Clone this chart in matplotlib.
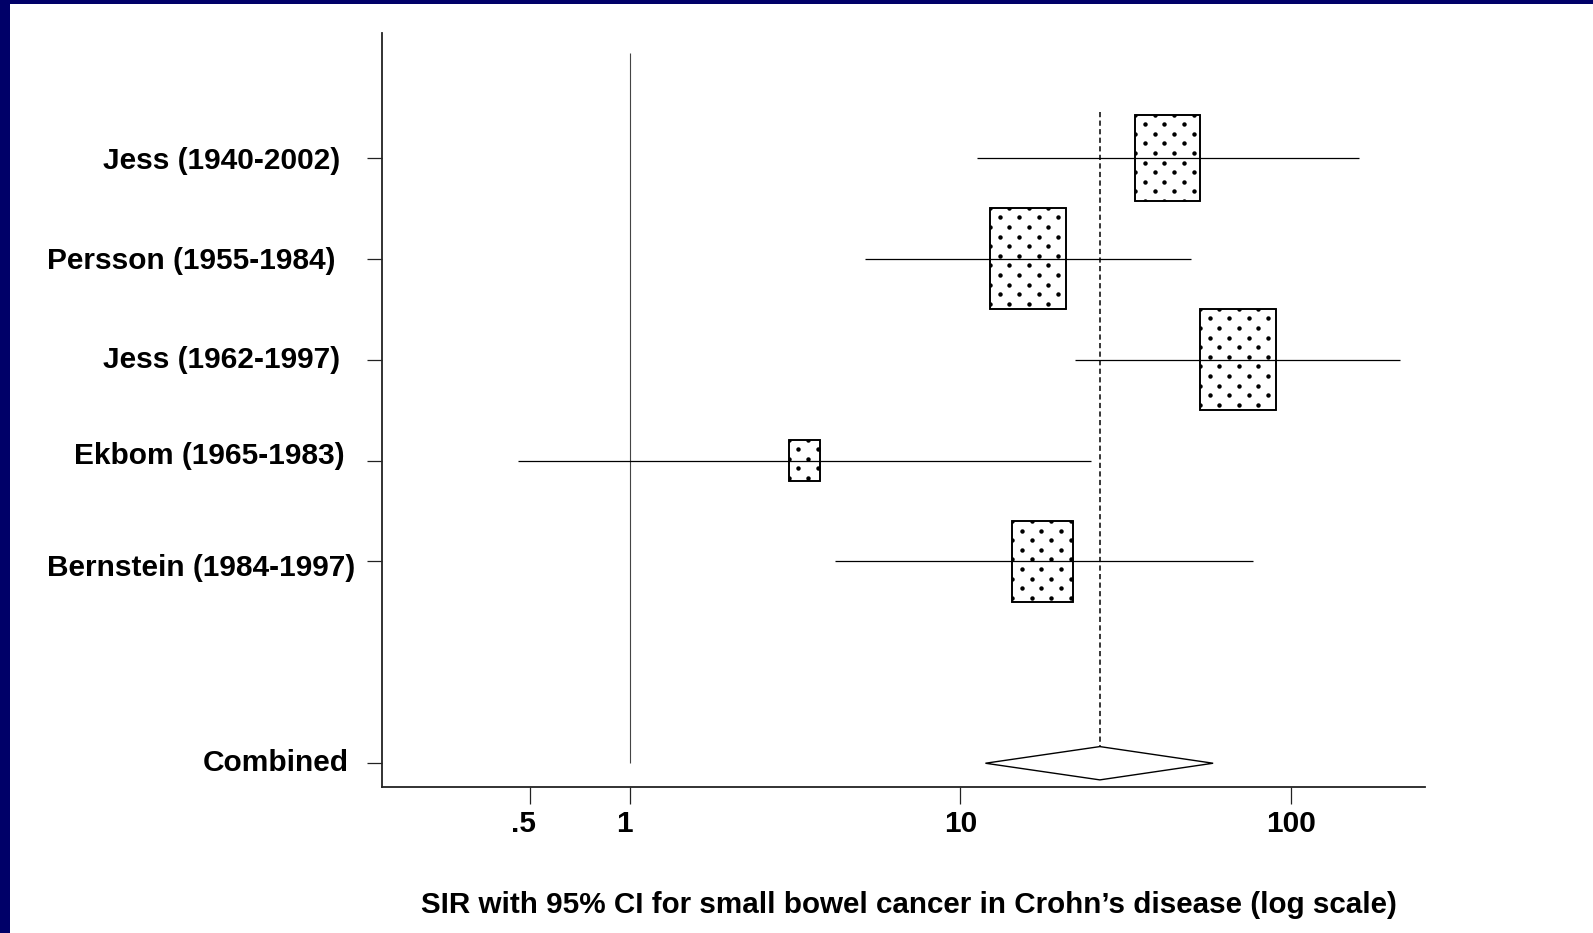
import numpy as np
import matplotlib
matplotlib.use("Agg")
import matplotlib.pyplot as plt
from matplotlib.patches import Rectangle, Polygon
import matplotlib.transforms as mtransforms

# ---------------- data ----------------
studies = ["Jess (1940-2002)", "Persson (1955-1984)", "Jess (1962-1997)",
           "Ekbom (1965-1983)", "Bernstein (1984-1997)"]
sir = [42.3, 16.0, 69.1, 3.37, 17.7]
ci_low = [11.2, 5.13, 22.2, 0.459, 4.18]
ci_high = [161.0, 49.8, 214.0, 24.9, 76.6]
weights = [0.72, 1.0, 1.0, 0.17, 0.63]          # relative study weights (box area)

combined_label = "Combined"
combined_sir = 26.4
combined_low = 11.9
combined_high = 58.1

xtick_values = [0.5, 1, 10, 100]
xtick_labels = [".5", "1", "10", "100"]
xlabel = "SIR with 95% CI for small bowel cancer in Crohn\u2019s disease (log scale)"

# ---------------- style ----------------
plt.rcParams["font.family"] = ["Liberation Sans", "DejaVu Sans"]
plt.rcParams["font.weight"] = "bold"

W, H, DPI = 15.93, 9.33, 100
fig = plt.figure(figsize=(W, H), dpi=DPI, facecolor="white")
ax = fig.add_axes([0.2398, 0.156, 0.6547, 0.809])

# navy frame strips (left and top)
navy = "#000068"
fig.patches.append(Rectangle((0, 0), 10 / 1593, 1, transform=fig.transFigure,
                             facecolor=navy, edgecolor="none", zorder=0))
fig.patches.append(Rectangle((0, 1 - 4 / 933), 1, 4 / 933, transform=fig.transFigure,
                             facecolor=navy, edgecolor="none", zorder=0))

ypos = list(range(1, len(studies) + 1))
ycomb = len(studies) + 2
xlim = (0.178, 254.0)
ylim = (ycomb + 0.24, -0.24)
ax.set_xscale("log")
ax.set_xlim(*xlim)
ax.set_ylim(*ylim)

# pixel scales for square-ish boxes
bbox = ax.get_position()
ax_w_px = bbox.width * W * DPI
ax_h_px = bbox.height * H * DPI
px_per_dec = ax_w_px / (np.log10(xlim[1]) - np.log10(xlim[0]))
px_per_unit = ax_h_px / abs(ylim[0] - ylim[1])

# reference line at 1
ax.vlines(1, -0.04, ycomb, color="#444444", lw=0.8, zorder=1)
# dashed line at combined estimate
dh = 0.165
ax.vlines(combined_sir, 0.55, ycomb - dh, color="black", lw=1.1,
          linestyles=(0, (3.4, 2.2)), zorder=1)

DOT_DX, DOT_DY = 19.5, 9.6   # dot-pattern spacing in pixels


def dot_fill(rect, x0, x1, ytop, ybot):
    inv = ax.transData.inverted()
    (lx, ty), (rx, by) = ax.transData.transform([(x0, ytop), (x1, ybot)])
    pts = []
    j = 0
    yy = ty
    while yy >= by - 1:
        off = 0.0 if j % 2 == 0 else DOT_DX / 2
        xx = lx + off
        while xx <= rx + 1:
            pts.append((xx, yy))
            xx += DOT_DX
        j += 1
        yy = ty - j * DOT_DY
    d = inv.transform(np.array(pts))
    ln, = ax.plot(d[:, 0], d[:, 1], "o", ls="none", ms=3.2, mew=0,
                  color="black", zorder=2.5)
    ln.set_clip_path(rect)


for y, est, lo, hi, w in zip(ypos, sir, ci_low, ci_high, weights):
    h = np.sqrt(w) * 1.007
    half_dec = 0.375 * h * px_per_unit / px_per_dec
    x0 = 10 ** (np.log10(est) - half_dec)
    x1 = 10 ** (np.log10(est) + half_dec)
    rect = Rectangle((x0, y - h / 2), x1 - x0, h, facecolor="white",
                     edgecolor="black", lw=1.2, zorder=2)
    ax.add_patch(rect)
    dot_fill(rect, x0, x1, y - h / 2, y + h / 2)
    edge = Rectangle((x0, y - h / 2), x1 - x0, h, facecolor="none",
                     edgecolor="black", lw=1.2, zorder=2.6)
    ax.add_patch(edge)
    ax.hlines(y, lo, hi, color="black", lw=0.9, zorder=3)

ax.add_patch(Polygon([(combined_low, ycomb), (combined_sir, ycomb - dh),
                      (combined_high, ycomb), (combined_sir, ycomb + dh)],
                     closed=True, facecolor="white", edgecolor="black",
                     lw=1.0, zorder=2))

# spines
for s in ["top", "right"]:
    ax.spines[s].set_visible(False)
for s in ["left", "bottom"]:
    ax.spines[s].set_linewidth(1.3)
    ax.spines[s].set_color("#222222")

# y ticks
ax.set_yticks(ypos + [ycomb])
ax.set_yticklabels(studies + [combined_label], fontsize=21.5, fontweight="bold")
ax.tick_params(axis="y", direction="out", length=10.8, width=0.9, pad=19.4,
               colors="#222222", labelcolor="black")
ydx = [0, -5, 0, 5, 15, 8.5]
ydy = [0, -1, -3, -8, 4, -3]
for lab, dx, dy in zip(ax.get_yticklabels(), ydx, ydy):
    lab.set_transform(lab.get_transform() +
                      mtransforms.ScaledTranslation(dx / DPI, -dy / DPI, fig.dpi_scale_trans))

# x ticks
ax.xaxis.set_minor_locator(matplotlib.ticker.NullLocator())
ax.set_xticks(xtick_values)
ax.set_xticklabels(xtick_labels, fontsize=21.5, fontweight="bold")
ax.tick_params(axis="x", direction="out", length=12.2, width=0.9, pad=4,
               colors="#222222", labelcolor="black")
xdx = [-7, -5, 0, 0]
for lab, dx in zip(ax.get_xticklabels(), xdx):
    lab.set_transform(lab.get_transform() +
                      mtransforms.ScaledTranslation(dx / DPI, 0, fig.dpi_scale_trans))

ax.set_xlabel(xlabel, fontsize=21.3, fontweight="bold", labelpad=38)
xl = ax.xaxis.label
xl.set_transform(xl.get_transform() +
                 mtransforms.ScaledTranslation(5 / DPI, 0, fig.dpi_scale_trans))

fig.savefig("out.png", dpi=DPI, facecolor="white")
